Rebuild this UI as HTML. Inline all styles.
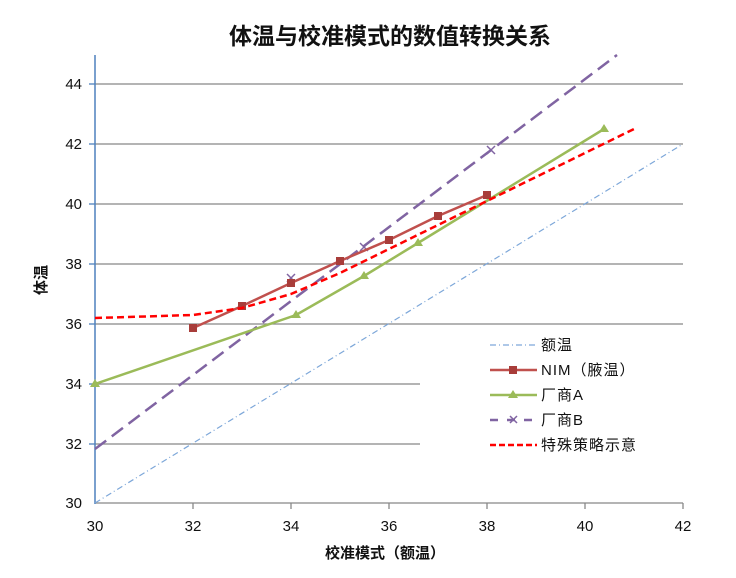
<!DOCTYPE html><html><head><meta charset="utf-8"><style>body{margin:0;background:#fff}svg{display:block}text{font-family:"Liberation Sans","Noto Sans CJK SC",sans-serif}</style></head><body>
<svg width="736" height="578" viewBox="0 0 736 578">
<text x="390" y="44" font-size="23" font-weight="bold" text-anchor="middle" fill="#111">体温与校准模式的数值转换关系</text>
<g stroke="#888" stroke-width="1.3">
<line x1="95" y1="84" x2="683" y2="84"/><line x1="95" y1="144" x2="683" y2="144"/><line x1="95" y1="204" x2="683" y2="204"/><line x1="95" y1="264" x2="683" y2="264"/><line x1="95" y1="324" x2="683" y2="324"/><line x1="95" y1="384" x2="420" y2="384"/><line x1="95" y1="444" x2="420" y2="444"/>
<line x1="95" y1="503" x2="683" y2="503"/>
<line x1="193" y1="503" x2="193" y2="509"/><line x1="291" y1="503" x2="291" y2="509"/><line x1="389" y1="503" x2="389" y2="509"/><line x1="487" y1="503" x2="487" y2="509"/><line x1="585" y1="503" x2="585" y2="509"/><line x1="683" y1="503" x2="683" y2="509"/>
</g>
<line x1="95" y1="55" x2="95" y2="504" stroke="#4f81bd" stroke-width="1.5"/>
<g stroke="#4f81bd" stroke-width="1.3"><line x1="89" y1="84" x2="95" y2="84"/><line x1="89" y1="144" x2="95" y2="144"/><line x1="89" y1="204" x2="95" y2="204"/><line x1="89" y1="264" x2="95" y2="264"/><line x1="89" y1="324" x2="95" y2="324"/><line x1="89" y1="384" x2="95" y2="384"/><line x1="89" y1="444" x2="95" y2="444"/></g>
<g font-size="15" fill="#111" text-anchor="end"><text x="82" y="89">44</text><text x="82" y="149">42</text><text x="82" y="209">40</text><text x="82" y="269">38</text><text x="82" y="329">36</text><text x="82" y="389">34</text><text x="82" y="449">32</text><text x="82" y="508">30</text></g>
<g font-size="15" fill="#111" text-anchor="middle"><text x="95" y="531">30</text><text x="193" y="531">32</text><text x="291" y="531">34</text><text x="389" y="531">36</text><text x="487" y="531">38</text><text x="585" y="531">40</text><text x="683" y="531">42</text></g>
<text x="385" y="558" font-size="15" font-weight="bold" text-anchor="middle" fill="#111">校准模式（额温）</text>
<text transform="translate(46,280) rotate(-90)" font-size="15" font-weight="bold" text-anchor="middle" fill="#111">体温</text>
<line x1="95" y1="503" x2="683" y2="144" stroke="#7da7d9" stroke-width="1.2" stroke-dasharray="6,3,1,3"/>
<polyline points="95,449 617,55" fill="none" stroke="#8064a2" stroke-width="2.5" stroke-dasharray="14,7"/>
<g stroke="#8064a2" stroke-width="1.5"><path d="M287,274l8,8m0,-8l-8,8"/><path d="M360,243l8,8m0,-8l-8,8"/><path d="M487,146l8,8m0,-8l-8,8"/></g>
<polyline points="95,384 296,315 364,276 418,243 604,129" fill="none" stroke="#9bbb59" stroke-width="2.5"/>
<g fill="#9bbb59"><path d="M95,379l5,8h-10z"/><path d="M296,310l5,8h-10z"/><path d="M364,271l5,8h-10z"/><path d="M418,238l5,8h-10z"/><path d="M604,124l5,8h-10z"/></g>
<polyline points="193,328 242,306 291,283 340,261 389,240 438,216 487,195" fill="none" stroke="#c0504d" stroke-width="2.5"/>
<g fill="#a83d3a"><rect x="189" y="324" width="8" height="8"/><rect x="238" y="302" width="8" height="8"/><rect x="287" y="279" width="8" height="8"/><rect x="336" y="257" width="8" height="8"/><rect x="385" y="236" width="8" height="8"/><rect x="434" y="212" width="8" height="8"/><rect x="483" y="191" width="8" height="8"/></g>
<polyline points="95,318 193,315 242,308 291,294 340,273 389,249 438,225 487,201 634,129" fill="none" stroke="#ff0000" stroke-width="2.5" stroke-dasharray="7,4"/>
<g font-size="15" fill="#111" letter-spacing="1">
<line x1="490" y1="345" x2="537" y2="345" stroke="#7da7d9" stroke-width="1.2" stroke-dasharray="6,3,1,3"/><text x="541" y="350">额温</text>
<line x1="490" y1="370" x2="537" y2="370" stroke="#c0504d" stroke-width="2.5"/><rect x="509" y="366" width="8" height="8" fill="#a83d3a"/><text x="541" y="375">NIM（腋温）</text>
<line x1="490" y1="395" x2="537" y2="395" stroke="#9bbb59" stroke-width="2.5"/><path d="M513,390l5,8h-10z" fill="#9bbb59"/><text x="541" y="400">厂商A</text>
<line x1="490" y1="420" x2="537" y2="420" stroke="#8064a2" stroke-width="2.5" stroke-dasharray="8,9"/><path d="M510,416l7,7m0,-7l-7,7" stroke="#8064a2" stroke-width="1.5"/><text x="541" y="425">厂商B</text>
<line x1="490" y1="445" x2="537" y2="445" stroke="#ff0000" stroke-width="2.5" stroke-dasharray="6,3"/><text x="541" y="450">特殊策略示意</text>
</g>
</svg></body></html>
